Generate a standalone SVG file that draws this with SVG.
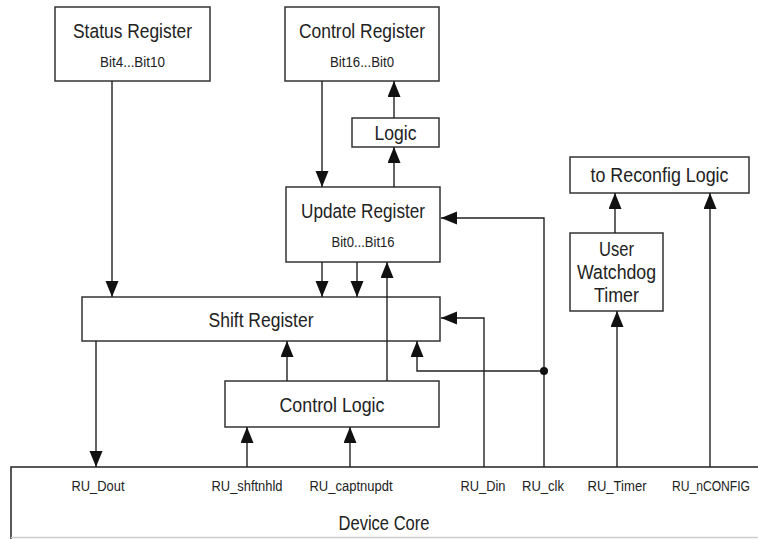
<svg xmlns="http://www.w3.org/2000/svg" width="758" height="539" viewBox="0 0 758 539">
<style>
.box{fill:#fff;stroke:#333;stroke-width:1.5}
.ln{fill:none;stroke:#222;stroke-width:1.4}
.big{font-family:"Liberation Sans",Arial,sans-serif;font-size:20.5px;fill:#222;text-anchor:middle}
.sm{font-family:"Liberation Sans",Arial,sans-serif;font-size:14px;fill:#222;text-anchor:middle}
</style>
<defs>
<marker id="ah" markerUnits="userSpaceOnUse" markerWidth="17" markerHeight="14" refX="16" refY="6.5" orient="auto">
<path d="M0,0 L16,6.5 L0,13 z" fill="#111"/>
</marker>
</defs>
<rect width="758" height="539" fill="#fff"/>

<g id="device-core">
<path d="M758,467 H11 V539" fill="none" stroke="#222" stroke-width="1.5"/>
<line x1="11" y1="537.5" x2="758" y2="537.5" stroke="#ccc" stroke-width="1.5"/>
<text class="big" x="384" y="530" textLength="91" lengthAdjust="spacingAndGlyphs">Device Core</text>
<text class="sm" x="98" y="491" textLength="53" lengthAdjust="spacingAndGlyphs">RU_Dout</text>
<text class="sm" x="247" y="491" textLength="71" lengthAdjust="spacingAndGlyphs">RU_shftnhld</text>
<text class="sm" x="351" y="491" textLength="83" lengthAdjust="spacingAndGlyphs">RU_captnupdt</text>
<text class="sm" x="483" y="491" textLength="45" lengthAdjust="spacingAndGlyphs">RU_Din</text>
<text class="sm" x="543" y="491" textLength="42" lengthAdjust="spacingAndGlyphs">RU_clk</text>
<text class="sm" x="617" y="491" textLength="59" lengthAdjust="spacingAndGlyphs">RU_Timer</text>
<text class="sm" x="711" y="491" textLength="78" lengthAdjust="spacingAndGlyphs">RU_nCONFIG</text>
</g>

<g id="status-register">
<rect class="box" x="55" y="7" width="155" height="74"/>
<text class="big" x="132.5" y="38" textLength="119" lengthAdjust="spacingAndGlyphs">Status Register</text>
<text class="sm" x="132.5" y="67" textLength="65" lengthAdjust="spacingAndGlyphs">Bit4...Bit10</text>
</g>

<g id="control-register">
<rect class="box" x="285" y="7" width="154" height="74"/>
<text class="big" x="362" y="38" textLength="126" lengthAdjust="spacingAndGlyphs">Control Register</text>
<text class="sm" x="362" y="67" textLength="64" lengthAdjust="spacingAndGlyphs">Bit16...Bit0</text>
</g>

<g id="logic">
<rect class="box" x="352" y="118" width="87" height="29"/>
<text class="big" x="395.5" y="140" textLength="42" lengthAdjust="spacingAndGlyphs">Logic</text>
</g>

<g id="update-register">
<rect class="box" x="286" y="187" width="154" height="75"/>
<text class="big" x="363" y="218" textLength="124" lengthAdjust="spacingAndGlyphs">Update Register</text>
<text class="sm" x="363" y="247" textLength="63" lengthAdjust="spacingAndGlyphs">Bit0...Bit16</text>
</g>

<g id="shift-register">
<rect class="box" x="82" y="297" width="358" height="44"/>
<text class="big" x="261" y="327" textLength="105" lengthAdjust="spacingAndGlyphs">Shift Register</text>
</g>

<g id="control-logic">
<rect class="box" x="225" y="381" width="214" height="46"/>
<text class="big" x="332" y="412" textLength="105" lengthAdjust="spacingAndGlyphs">Control Logic</text>
</g>

<g id="reconfig-logic">
<rect class="box" x="570" y="157" width="179" height="36"/>
<text class="big" x="659.5" y="182" textLength="138" lengthAdjust="spacingAndGlyphs">to Reconfig Logic</text>
</g>

<g id="watchdog-timer">
<rect class="box" x="570" y="233" width="93" height="78"/>
<text class="big" x="616.5" y="256" textLength="35" lengthAdjust="spacingAndGlyphs">User</text>
<text class="big" x="616.5" y="279" textLength="79" lengthAdjust="spacingAndGlyphs">Watchdog</text>
<text class="big" x="616.5" y="302" textLength="45" lengthAdjust="spacingAndGlyphs">Timer</text>
</g>

<g id="connectors">
<path class="ln" d="M112,81 V297" marker-end="url(#ah)"/>
<path class="ln" d="M322,81 V187" marker-end="url(#ah)"/>
<path class="ln" d="M394,118 V81" marker-end="url(#ah)"/>
<path class="ln" d="M394,187 V147" marker-end="url(#ah)"/>
<path class="ln" d="M322,262 V297" marker-end="url(#ah)"/>
<path class="ln" d="M357,262 V297" marker-end="url(#ah)"/>
<path class="ln" d="M387,381 V262" marker-end="url(#ah)"/>
<path class="ln" d="M287,381 V341" marker-end="url(#ah)"/>
<path class="ln" d="M96,341 V467" marker-end="url(#ah)"/>
<path class="ln" d="M247,467 V427" marker-end="url(#ah)"/>
<path class="ln" d="M350,467 V427" marker-end="url(#ah)"/>
<path class="ln" d="M484,467 V318 H441" marker-end="url(#ah)"/>
<path class="ln" d="M544,467 V218 H441" marker-end="url(#ah)"/>
<path class="ln" d="M544,371 H417 V341" marker-end="url(#ah)"/>
<circle cx="544" cy="371" r="4" fill="#111"/>
<path class="ln" d="M617,467 V311" marker-end="url(#ah)"/>
<path class="ln" d="M615,233 V193" marker-end="url(#ah)"/>
<path class="ln" d="M710,467 V193" marker-end="url(#ah)"/>
</g>
</svg>
